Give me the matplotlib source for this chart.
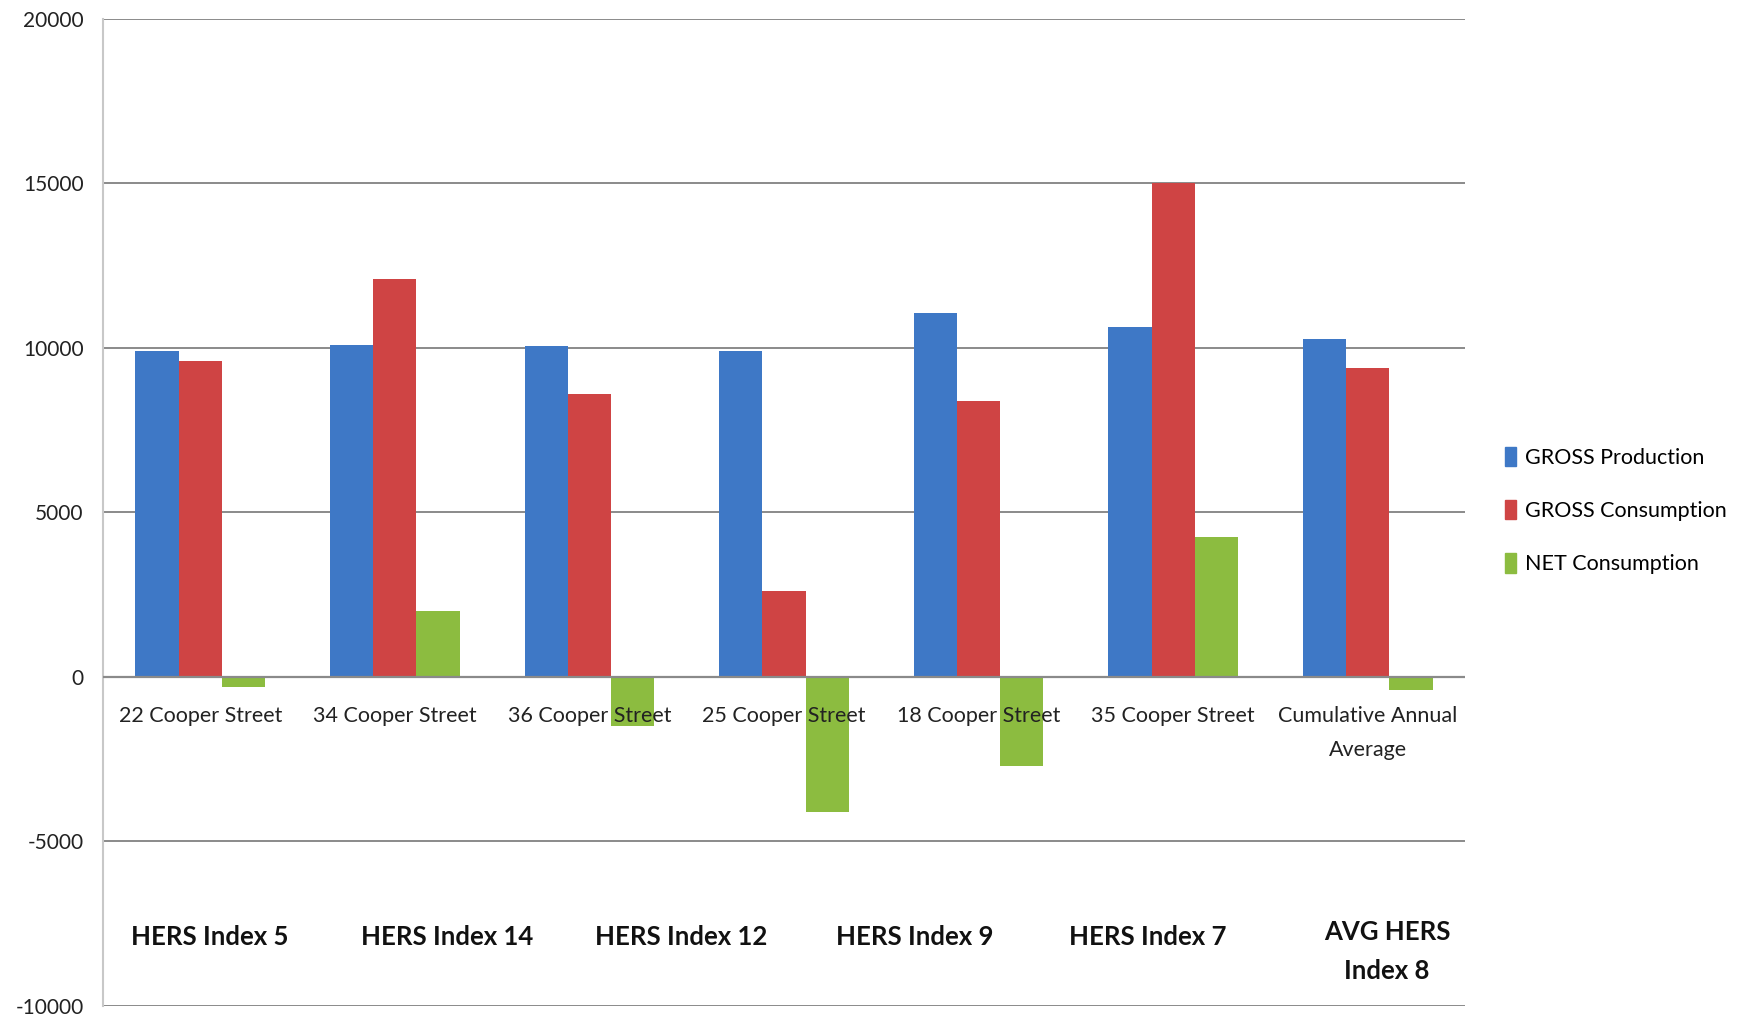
import matplotlib.pyplot as plt
from matplotlib.patches import Patch

# data
streets = ['22 Cooper Street', '34 Cooper Street', '36 Cooper Street', '25 Cooper Street',
           '18 Cooper Street', '35 Cooper Street', 'Cumulative Annual\nAverage']
gross_production = [9900, 10100, 10050, 9900, 11050, 10650, 10270]
gross_consumption = [9600, 12100, 8600, 2600, 8400, 15000, 9400]
net_consumption = [-300, 2000, -1500, -4100, -2700, 4250, -400]
hers_labels = ['HERS Index 5', 'HERS Index 14', 'HERS Index 12', 'HERS Index 9',
               'HERS Index 7', 'AVG HERS\nIndex 8']
hers_x = [0.05, 1.27, 2.47, 3.67, 4.87, 6.1]
hers_y = [-7900, -7900, -7900, -7900, -7900, -8340]

series_names = ['GROSS Production', 'GROSS Consumption', 'NET Consumption']
colors = ['#3E78C6', '#CF4444', '#8CBC40']

plt.rcParams['font.family'] = ['Lato', 'DejaVu Sans']
plt.rcParams['axes.unicode_minus'] = False

fig = plt.figure(figsize=(17.43, 10.21), dpi=100)
ax = fig.add_axes([0.0591, 0.0147, 0.7814, 0.9667])

w = 1 / 4.5
x = list(range(len(streets)))
for k, vals in enumerate([gross_production, gross_consumption, net_consumption]):
    ax.bar([i + (k - 1) * w for i in x], vals, width=w, color=colors[k], zorder=3)

ax.set_xlim(-0.5, len(streets) - 0.5)
ax.set_ylim(-10000, 20000)
ax.set_yticks(range(-10000, 20001, 5000))
ax.tick_params(axis='y', length=0, labelsize=15, pad=14, labelcolor='#222222')
ax.set_xticks([])
ax.grid(axis='y', color='#8a8a8a', linewidth=1.4, zorder=1)
for s in ['top', 'right', 'bottom']:
    ax.spines[s].set_visible(False)
ax.spines['left'].set_color('#c8c8c8')
ax.spines['left'].set_linewidth(1.5)
ax.axhline(0, color='#8a8a8a', linewidth=1.6, zorder=4)

# category names sit just under the zero line, drawn over the bars
for i, name in enumerate(streets):
    ax.annotate(name, (i, 0), xytext=(0, -21), textcoords='offset points',
                ha='center', va='top', fontsize=15.5, color='#222222',
                linespacing=1.85, zorder=6)

for xi, yi, lab in zip(hers_x, hers_y, hers_labels):
    ax.text(xi, yi, lab, ha='center', va='center', fontsize=18.5,
            fontweight='bold', color='#111111', linespacing=1.75, zorder=6)

handles = [Patch(color=c) for c in colors]
fig.legend(handles, series_names, loc='center left', bbox_to_anchor=(0.8525, 0.50),
           frameon=False, fontsize=15.5, handlelength=0.5, handleheight=1.0,
           handletextpad=0.4, labelspacing=1.5)

fig.savefig('out.png', dpi=100)
